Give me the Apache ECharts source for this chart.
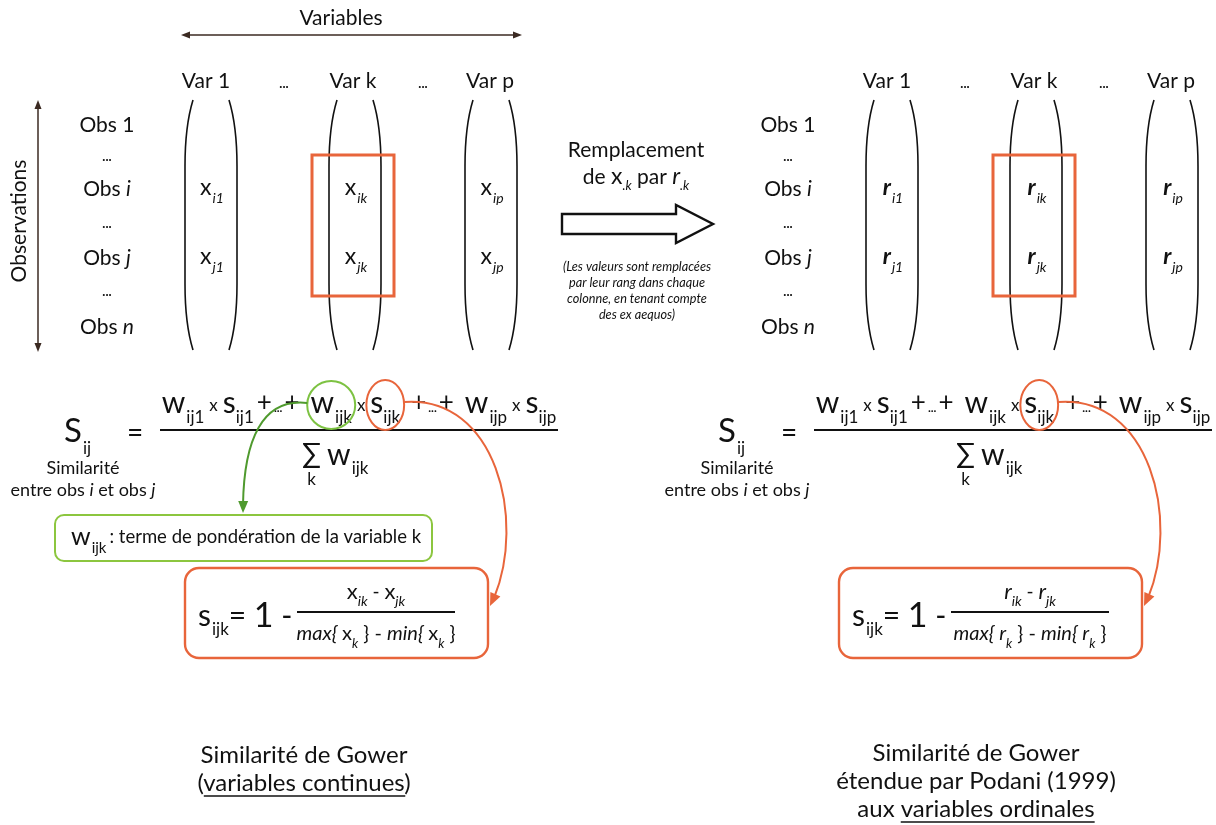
<!DOCTYPE html>
<html>
<head>
<meta charset="utf-8">
<script src="https://cdn.jsdelivr.net/npm/echarts@6/dist/echarts.min.js"></script>
<style>html,body{margin:0;background:#fff}#main{width:1216px;height:825px}</style>
</head>
<body>
<div id="main"></div>
<script>
// texts of the diagram
var varLabels = ['Var 1', '...', 'Var k', '...', 'Var p'];
var obsIndex = ['1', '...', 'i', '...', 'j', '...', 'n'];
var cellSubs = [['i1', 'ik', 'ip'], ['j1', 'jk', 'jp']];
var panelLetters = ['x', 'r'];
var noteLines = ['(Les valeurs sont remplacées', 'par leur rang dans chaque', 'colonne, en tenant compte', 'des ex aequos)'];
var numSubs = ['ij1', 'ijk', 'ijp'];
var weightText = ': terme de pondération de la variable k';
var captionLeft = ['Similarité de Gower', '(variables continues)'];
var captionRight = ['Similarité de Gower', 'étendue par Podani (1999)', 'aux variables ordinales'];

var INK = '#111';
var ORANGE = '#e8653b';
var GREEN_C = '#7dc242';
var GREEN_A = '#4f9a2e';
var FONT = 'Lato';

var ctx = document.createElement('canvas').getContext('2d');
function fontStr(size, italic, weight) {
    return (italic ? 'italic ' : 'normal ') + (weight || 'normal') + ' ' + size + 'px ' + FONT;
}
function measure(t, size, italic, weight) {
    ctx.font = fontStr(size, italic, weight);
    return ctx.measureText(t).width;
}
function txt(x, y, t, size, opt) {
    opt = opt || {};
    return {
        type: 'text', x: x, y: y, rotation: opt.rotation || 0,
        style: {
            text: t, fill: opt.color || INK, fontSize: size, fontFamily: FONT,
            fontStyle: opt.italic ? 'italic' : 'normal', fontWeight: opt.weight || 'normal',
            align: opt.align || 'left', verticalAlign: 'middle'
        }
    };
}
// tokens: [text, size, dy, italic, weight, gapBefore]
function run(tokens, x, y, align, color) {
    var ws = [], total = 0;
    tokens.forEach(function (k) {
        var w = measure(k[0], k[1], k[3], k[4]);
        ws.push(w);
        total += w + (k[5] || 0);
    });
    var cx = align === 'center' ? x - total / 2 : x;
    var els = [], pos = [];
    tokens.forEach(function (k, i) {
        cx += (k[5] || 0);
        pos.push(cx);
        els.push(txt(cx, y + (k[2] || 0), k[0], k[1], {italic: k[3], weight: k[4], color: color}));
        cx += ws[i];
    });
    return {els: els, pos: pos, ws: ws, total: total};
}
function arrowHead(tx, ty, fx, fy, len, half, color) {
    var dx = tx - fx, dy = ty - fy, d = Math.sqrt(dx * dx + dy * dy);
    dx /= d; dy /= d;
    var bx = tx - dx * len, by = ty - dy * len;
    return {type: 'polygon', shape: {points: [[tx, ty], [bx - dy * half, by + dx * half], [bx + dy * half, by - dx * half]]},
        style: {fill: color}};
}
// tall parenthesis, b = x of its bulge, dir -1 = "(", 1 = ")"
function paren(b, top, bottom, dir) {
    var e = b - dir * 8;
    var st = {stroke: INK, lineWidth: 1.6, fill: 'none'};
    return [
        {type: 'bezierCurve', shape: {x1: e, y1: top, cpx1: b, cpy1: top + 26, x2: b, y2: top + 66}, style: st},
        {type: 'line', shape: {x1: b, y1: top + 66, x2: b, y2: bottom - 66}, style: st},
        {type: 'bezierCurve', shape: {x1: b, y1: bottom - 66, cpx1: b, cpy1: bottom - 26, x2: e, y2: bottom}, style: st}
    ];
}

var els = [];

// ---------- top arrows ----------
els.push(txt(341, 18, 'Variables', 21, {align: 'center'}));
els.push({type: 'line', shape: {x1: 186, y1: 35, x2: 517, y2: 35}, style: {stroke: '#3b2a22', lineWidth: 1.5}});
els.push(arrowHead(181, 35, 190, 35, 9, 3.5, '#3b2a22'));
els.push(arrowHead(522, 35, 513, 35, 9, 3.5, '#3b2a22'));
els.push({type: 'line', shape: {x1: 38, y1: 106, x2: 38, y2: 346}, style: {stroke: '#3b2a22', lineWidth: 1.5}});
els.push(arrowHead(38, 100, 38, 110, 9, 3.5, '#3b2a22'));
els.push(arrowHead(38, 352, 38, 342, 9, 3.5, '#3b2a22'));
els.push(txt(19, 221, 'Observations', 21, {align: 'center', rotation: Math.PI / 2}));

// ---------- matrices ----------
function panel(ox, letter) {
    var vx = [206, 284, 353, 423, 490];
    varLabels.forEach(function (v, i) {
        if (v === '...') els.push(txt(ox + vx[i], 84, v, 13, {align: 'center', weight: 'bold'}));
        else els.push(txt(ox + vx[i], 81, v, 21, {align: 'center'}));
    });
    var oy = [125, 157, 189, 224, 258, 292, 327];
    obsIndex.forEach(function (o, i) {
        if (o === '...') els.push(txt(ox + 107, oy[i], o, 13, {align: 'center', weight: 'bold'}));
        else {
            var it = o !== '1';
            els = els.concat(run([['Obs ', 21], [o, 21, 0, it]], ox + 107, oy[i], 'center').els);
        }
    });
    var cols = [211, 355, 491];
    cols.forEach(function (c) {
        els = els.concat(paren(ox + c - 26, 100, 350, -1));
        els = els.concat(paren(ox + c + 26, 100, 350, 1));
    });
    var ry = [188, 257];
    cellSubs.forEach(function (row, r) {
        row.forEach(function (s, j) {
            els = els.concat(run([[letter, 23, 0, letter === 'r', letter === 'r' ? 'bold' : 'normal'], [s, 14, 10, true, 'normal', 1]], ox + cols[j] + 1, ry[r], 'center').els);
        });
    });
    els.push({type: 'rect', shape: {x: ox + 312, y: 155, width: 82, height: 141}, style: {fill: 'none', stroke: ORANGE, lineWidth: 3}});
}
panel(0, panelLetters[0]);
panel(681, panelLetters[1]);

// ---------- middle arrow ----------
els.push(txt(636, 150, 'Remplacement', 21, {align: 'center'}));
els = els.concat(run([['de ', 21], ['x', 23], ['.k', 13, 9, true], [' par ', 21], ['r', 23, 0, true], ['.k', 13, 9, true]], 636, 177, 'center').els);
els.push({type: 'polygon', shape: {points: [[562, 214], [676, 214], [676, 205], [713, 224], [676, 243], [676, 234], [562, 234]]},
    style: {fill: '#fff', stroke: INK, lineWidth: 2.4}});
noteLines.forEach(function (l, i) {
    els.push(txt(637, 267 + i * 16, l, 12.7, {align: 'center', italic: true}));
});

// ---------- formulas ----------
function formula(fx, letter, withWeight) {
    var B = 30, S = 17, D = 15, P = 26, X = 17;
    els = els.concat(run([['S', 33], ['ij', 17, 18, false, 'normal', 1]], fx + 64, 431).els);
    els.push(txt(fx + 135, 433, '=', 28, {align: 'center'}));
    els.push({type: 'line', shape: {x1: fx + 160, y1: 430, x2: fx + 558, y2: 430}, style: {stroke: INK, lineWidth: 2}});
    var toks = [];
    numSubs.forEach(function (s, i) {
        toks.push(['w', B, 0, false, 'normal', i === 0 ? 0 : 11]);
        toks.push([s, S, D, false, 'normal', 1]);
        toks.push(['x', X, 3, false, 'normal', 5]);
        toks.push(['s', B, 0, false, 'normal', 5]);
        toks.push([s, S, D, false, 'normal', 0]);
        if (i < 2) {
            toks.push(['+', P, 0, false, 'normal', i === 0 ? 3 : 11]);
            toks.push(['...', 12, 5, false, 'bold', 2]);
            toks.push(['+', P, 0, false, 'normal', 2]);
        }
    });
    var num = run(toks, fx + 359, 403, 'center');
    els = els.concat(num.els);
    // denominator
    var den = run([['∑', 28], ['w', B, 1, false, 'normal', 6], ['ijk', S, 15, false, 'normal', 1]], fx + 302, 454);
    els = els.concat(den.els);
    els.push(txt(den.pos[0] + den.ws[0] / 2, 480, 'k', 17, {align: 'center'}));
    els.push(txt(fx + 83, 468, 'Similarité', 18, {align: 'center'}));
    els = els.concat(run([['entre obs ', 18], ['i', 18, 0, true], [' et obs ', 18], ['j', 18, 0, true]], fx + 83, 490, 'center').els);

    // ellipse around s_ijk (tokens 11,12)
    var sx = num.pos[11], sw = num.pos[12] + num.ws[12] - sx;
    var scx = sx + sw / 2, scy = 405;
    var srx = sw / 2 + 4;
    els.push({type: 'ellipse', shape: {cx: scx, cy: scy, rx: srx, ry: 25}, style: {fill: 'none', stroke: ORANGE, lineWidth: 2}});

    // orange box
    var bx = fx + 185, by = 568, bw = 303, bh = 90;
    els.push({type: 'rect', shape: {x: bx, y: by, width: bw, height: bh, r: 14}, style: {fill: 'none', stroke: ORANGE, lineWidth: 2.4}});
    var ox0 = scx + srx;
    var tipX = bx + bw + 2, tipY = 606;
    els.push({type: 'bezierCurve', shape: {x1: ox0, y1: scy - 3, cpx1: ox0 + 92, cpy1: scy - 10, cpx2: ox0 + 122, cpy2: 520, x2: tipX + 4, y2: tipY - 8},
        style: {stroke: ORANGE, lineWidth: 2, fill: 'none'}});
    els.push(arrowHead(tipX, tipY, ox0 + 116, 540, 13, 5.5, ORANGE));

    var it = letter === 'r';
    els = els.concat(run([['s', 30], ['ijk', 17, 14, false, 'normal', 1], ['= ', 30, 0, false, 'normal', 0], ['1', 34], [' -', 30]], bx + 13, 616).els);
    var fc = bx + 191;
    els = els.concat(run([[letter, 22, 0, it], ['ik', 14, 9, true], [' - ', 19], [letter, 22, 0, it], ['jk', 14, 9, true]], fc, 592, 'center').els);
    els.push({type: 'line', shape: {x1: fc - 79, y1: 612, x2: fc + 79, y2: 612}, style: {stroke: INK, lineWidth: 1.8}});
    els = els.concat(run([['max{ ', 20, 0, true], [letter, 20, 0, it], ['k', 13, 10, true], [' } - ', 20], ['min{ ', 20, 0, true], [letter, 20, 0, it], ['k', 13, 10, true], [' }', 20]], fc, 634, 'center').els);

    if (withWeight) {
        var wx = num.pos[8], ww = num.pos[9] + num.ws[9] - wx;
        var wcx = wx + ww / 2, wcy = 405;
        els.push({type: 'circle', shape: {cx: wcx, cy: wcy, r: 24}, style: {fill: 'none', stroke: GREEN_C, lineWidth: 2}});
        var gx0 = wcx - 24, gtipX = 243, gtipY = 513;
        els.push({type: 'bezierCurve', shape: {x1: gx0, y1: wcy - 2, cpx1: 262, cpy1: 398, cpx2: 244, cpy2: 440, x2: gtipX, y2: gtipY - 8},
            style: {stroke: GREEN_A, lineWidth: 2, fill: 'none'}});
        els.push(arrowHead(gtipX, gtipY, 243.5, 485, 12, 5, GREEN_A));
        els.push({type: 'rect', shape: {x: 55, y: 515, width: 377, height: 46, r: 9}, style: {fill: 'none', stroke: '#8cc63f', lineWidth: 2}});
        els = els.concat(run([['w', 25], ['ijk', 15, 11, false, 'normal', 1], [weightText, 18.5, 0, false, 'normal', 3]], 71, 537).els);
    }
}
formula(0, panelLetters[0], true);
formula(654, panelLetters[1], false);

// ---------- captions ----------
function caption(lines, cx, y0, underlined) {
    lines.forEach(function (l, i) {
        var y = y0 + i * 28;
        els.push(txt(cx, y, l, 24, {align: 'center'}));
        var u = underlined[i];
        if (u) {
            var full = measure(l, 24);
            var start = cx - full / 2 + measure(l.slice(0, l.indexOf(u)), 24);
            els.push({type: 'line', shape: {x1: start, y1: y + 13, x2: start + measure(u, 24), y2: y + 13}, style: {stroke: INK, lineWidth: 1.4}});
        }
    });
}
caption(captionLeft, 304, 755, [null, 'variables continues']);
caption(captionRight, 976, 753, [null, null, 'variables ordinales']);

var myChart = echarts.init(document.getElementById('main'));
var option = {
    backgroundColor: '#fff',
    animation: false,
    graphic: {elements: els}
};
myChart.setOption(option);
</script>
</body>
</html>
